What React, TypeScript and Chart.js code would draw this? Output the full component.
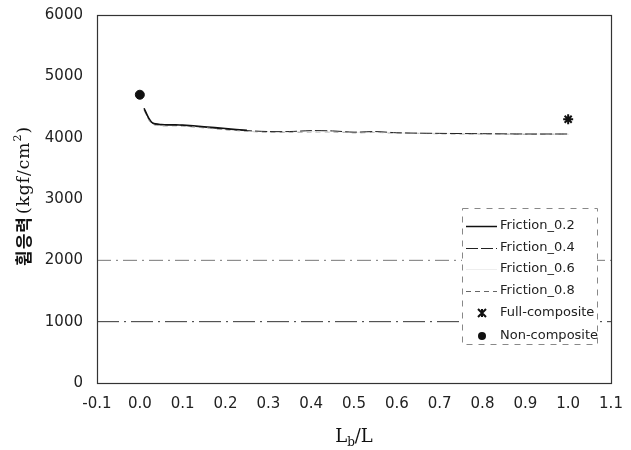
import React, { useEffect, useRef } from "react";
import { Chart, registerables } from "chart.js";
Chart.register(...registerables);

// ---- data ----
const frictionX = [0.01, 0.02, 0.03, 0.05, 0.08, 0.1, 0.15, 0.2, 0.25, 0.3, 0.35, 0.4, 0.45, 0.5, 0.55, 0.6, 0.7, 0.8, 0.9, 1.0];
const friction02 = [4480, 4330, 4240, 4215, 4210, 4205, 4180, 4150, 4120, null, null, null, null, null, null, null, null, null, null, null];
const friction04 = [4470, 4320, 4230, 4210, 4205, 4200, 4170, 4140, 4115, 4100, 4100, 4115, 4110, 4090, 4100, 4080, 4070, 4065, 4060, 4060];
const friction06 = [4460, 4310, 4225, 4200, 4200, 4195, 4165, 4135, 4110, 4095, 4095, 4100, 4100, 4085, 4090, 4075, 4070, 4060, 4060, 4055];
const friction08 = [4450, 4300, 4220, 4195, 4195, 4190, 4160, 4130, 4105, 4090, 4090, 4095, 4095, 4080, 4085, 4075, 4065, 4060, 4055, 4055];
const fullCompositeX = [1.0];
const fullCompositeY = [4300];
const nonCompositeX = [0.0];
const nonCompositeY = [4700];
const refLevels = [2000, 1000];
const refRange = [-0.1, 1.1];
const legendLabels = ["Friction_0.2", "Friction_0.4", "Friction_0.6", "Friction_0.8", "Full-composite", "Non-composite"];

const toPts = (xs: number[], ys: (number | null)[]) => xs.map((x, i) => ({ x, y: ys[i] }));

const frameAndTitles = {
  id: "frameAndTitles",
  afterDraw(chart: any) {
    const { ctx, chartArea: a } = chart;
    ctx.save();
    ctx.strokeStyle = "#333";
    ctx.lineWidth = 1.2;
    ctx.setLineDash([]);
    ctx.strokeRect(a.left + 0.5, a.top + 0.5, a.right - a.left, a.bottom - a.top);

    // x title: L_b/L
    const cx = (a.left + a.right) / 2;
    const base = 442;
    ctx.fillStyle = "#111";
    ctx.textBaseline = "alphabetic";
    ctx.textAlign = "left";
    const big = "18px 'DejaVu Serif', 'Liberation Serif', serif";
    const small = "12px 'DejaVu Serif', 'Liberation Serif', serif";
    ctx.font = big;
    const wL = ctx.measureText("L").width;
    const wRest = ctx.measureText("/L").width;
    ctx.font = small;
    const wb = ctx.measureText("b").width;
    const x0 = cx - (wL + wb + wRest) / 2;
    ctx.font = big;
    ctx.fillText("L", x0, base);
    ctx.font = small;
    ctx.fillText("b", x0 + wL, base + 4);
    ctx.font = big;
    ctx.fillText("/L", x0 + wL + wb, base);

    // y title rotated
    ctx.translate(24, 196);
    ctx.rotate(-Math.PI / 2);
    const kor = "bold 17px 'Noto Sans CJK KR', sans-serif";
    const ser = "17px 'DejaVu Serif', 'Liberation Serif', serif";
    const sup = "11px 'DejaVu Serif', 'Liberation Serif', serif";
    (ctx as any).letterSpacing = "1px";
    ctx.font = kor;
    const w1 = ctx.measureText("휨응력").width;
    ctx.font = ser;
    const w2 = ctx.measureText("(kgf/cm").width;
    ctx.font = sup;
    const w3 = ctx.measureText("2").width;
    ctx.font = ser;
    const w4 = ctx.measureText(")").width;
    let sx = -(w1 + w2 + w3 + w4 + 2) / 2;
    ctx.textBaseline = "middle";
    ctx.font = kor;
    ctx.fillText("휨응력", sx, 0);
    sx += w1 + 2;
    ctx.font = ser;
    ctx.fillText("(kgf/cm", sx, 1);
    sx += w2;
    ctx.font = sup;
    ctx.fillText("2", sx, -6);
    sx += w3;
    ctx.font = ser;
    ctx.fillText(")", sx, 1);
    ctx.restore();
  },
};

const customLegend = {
  id: "customLegend",
  afterDraw(chart: any) {
    const { ctx } = chart;
    const bx = 462, by = 208, bw = 135, bh = 136;
    ctx.save();
    ctx.fillStyle = "#fff";
    ctx.fillRect(bx, by, bw, bh);
    ctx.strokeStyle = "#888";
    ctx.lineWidth = 1;
    ctx.setLineDash([6, 6]);
    ctx.strokeRect(bx + 0.5, by + 0.5, bw, bh);
    const rows = [226, 248, 269, 291, 313, 336];
    ctx.font = "13px 'DejaVu Sans', 'Liberation Sans', sans-serif";
    ctx.textBaseline = "middle";
    ctx.textAlign = "left";
    const ds = chart.data.datasets;
    legendLabels.forEach((lab, i) => {
      const y = rows[i];
      const d = ds[i];
      if (i < 4) {
        ctx.strokeStyle = d.borderColor;
        ctx.lineWidth = d.borderWidth;
        ctx.setLineDash(d.borderDash || []);
        ctx.beginPath();
        ctx.moveTo(466, y + 0.5);
        ctx.lineTo(497, y + 0.5);
        ctx.stroke();
      } else if (i === 4) {
        ctx.setLineDash([]);
        ctx.strokeStyle = "#111";
        ctx.lineWidth = 2;
        const r = 4;
        ctx.beginPath();
        ctx.moveTo(482 - r, y - r); ctx.lineTo(482 + r, y + r);
        ctx.moveTo(482 + r, y - r); ctx.lineTo(482 - r, y + r);
        ctx.moveTo(482, y - r); ctx.lineTo(482, y + r);
        ctx.stroke();
      } else {
        ctx.fillStyle = "#111";
        ctx.beginPath();
        ctx.arc(482, y, 4, 0, Math.PI * 2);
        ctx.fill();
      }
      ctx.fillStyle = "#222";
      ctx.fillText(lab, 500, y);
    });
    ctx.restore();
  },
};

export default function App() {
  const ref = useRef<HTMLCanvasElement>(null);
  useEffect(() => {
    if (!ref.current) return;
    const refSets = refLevels.map((lv, i) => ({
      label: "ref" + lv,
      data: refRange.map((x) => ({ x, y: lv })),
      borderColor: i === 0 ? "#777" : "#333",
      borderWidth: 1,
      borderDash: i === 0 ? [14, 5, 2, 5] : [22, 5, 2, 5],
      pointRadius: 0,
      showLine: true,
    }));
    const chart = new Chart(ref.current, {
      type: "scatter",
      data: {
        datasets: [
          { label: legendLabels[0], data: toPts(frictionX, friction02), borderColor: "#111", borderWidth: 1.5, borderDash: [], pointRadius: 0, showLine: true, tension: 0.3, spanGaps: false },
          { label: legendLabels[1], data: toPts(frictionX, friction04), borderColor: "#222", borderWidth: 1, borderDash: [12, 3], pointRadius: 0, showLine: true, tension: 0.3 },
          { label: legendLabels[2], data: toPts(frictionX, friction06), borderColor: "#eeeeee", borderWidth: 1, borderDash: [], pointRadius: 0, showLine: true, tension: 0.3 },
          { label: legendLabels[3], data: toPts(frictionX, friction08), borderColor: "#666", borderWidth: 1, borderDash: [5, 4], pointRadius: 0, showLine: true, tension: 0.3 },
          { label: legendLabels[4], data: toPts(fullCompositeX, fullCompositeY), pointStyle: "star", pointRadius: 5, borderColor: "#111", borderWidth: 2, backgroundColor: "#111", showLine: false },
          { label: legendLabels[5], data: toPts(nonCompositeX, nonCompositeY), pointStyle: "circle", pointRadius: 4.5, borderColor: "#111", backgroundColor: "#111", showLine: false },
          ...refSets,
        ] as any,
      },
      options: {
        animation: false,
        responsive: false,
        devicePixelRatio: 1,
        layout: { padding: { top: 15, right: 20, left: 0, bottom: 0 } },
        plugins: { legend: { display: false }, tooltip: { enabled: false } },
        scales: {
          x: {
            type: "linear",
            min: -0.1,
            max: 1.1,
            grid: { display: false, drawTicks: false },
            border: { display: false },
            ticks: {
              stepSize: 0.1,
              padding: 12,
              color: "#222",
              maxRotation: 0,
              autoSkip: false,
              font: { family: "'DejaVu Sans', 'Liberation Sans', sans-serif", size: 15 },
              callback: (v: any) => Number(v).toFixed(1),
            },
            afterFit: (s: any) => { s.height = 67; s.paddingLeft = 0; s.paddingRight = 0; },
          },
          y: {
            min: 0,
            max: 6000,
            grid: { display: false, drawTicks: false },
            border: { display: false },
            ticks: {
              stepSize: 1000,
              padding: 14,
              color: "#222",
              font: { family: "'DejaVu Sans', 'Liberation Sans', sans-serif", size: 15 },
              callback: (v: any) => String(v),
            },
            afterFit: (s: any) => { s.width = 97; s.paddingTop = 0; s.paddingBottom = 0; },
          },
        },
      },
      plugins: [frameAndTitles, customLegend],
    });
    return () => chart.destroy();
  }, []);
  return (
    <div style={{ position: "fixed", left: 0, top: 0, width: 631, height: 450, background: "#fff" }}>
      <canvas ref={ref} width={631} height={450} style={{ width: 631, height: 450 }} />
    </div>
  );
}
